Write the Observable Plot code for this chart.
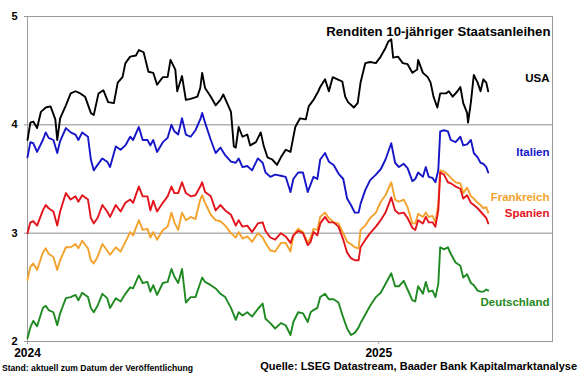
<!DOCTYPE html>
<html>
<head>
<meta charset="utf-8">
<script src="https://cdn.jsdelivr.net/npm/d3@7"></script>
<script src="https://cdn.jsdelivr.net/npm/@observablehq/plot@0.6"></script>
<style>
  body { margin: 0; background: #fff; font-family: "Liberation Sans", Arial, sans-serif; }
  #wrap { position: relative; width: 580px; height: 375px; }
  #footer { position: absolute; left: 0; top: 359px; width: 580px; height: 16px; font-weight: bold; color: #000; }
  #stand { position: absolute; left: 2px; top: 4px; font-size: 8.6px; white-space: nowrap; }
  #quelle { position: absolute; right: 3px; top: 1px; font-size: 11px; white-space: nowrap; }
</style>
</head>
<body>
<div id="wrap"><div id="chart"></div>
<div id="footer"><span id="stand">Stand: aktuell zum Datum der Veröffentlichung</span><span id="quelle">Quelle: LSEG Datastream, Baader Bank Kapitalmarktanalyse</span></div>
</div>
<script>
// Days since 2024-01-01 for the European series
const euDays = [0,3,6,10,16,19,22,27,31,34,40,45,50,53,57,63,66,69,73,78,83,86,92,97,102,107,110,116,120,125,128,131,135,141,146,150,153,
  157,161,165,170,175,180,182,185,191,196,201,206,212,217,220,224,229,234,240,245,248,253,258,264,269,274,277,282,287,292,295,298,302,
  305,310,314,319,324,329,333,337,341,345,347,352,357,363,368,373,379,383,387,392,396,401,404,407,412,415,418,422,425,428,430,434,438,441,446,451,454,458,462,465,469,472,475,478,480];

const italien = [3.70,3.84,3.83,3.75,3.86,3.93,3.88,3.86,3.74,3.85,3.97,3.93,3.91,3.86,3.93,3.89,3.68,3.58,3.63,3.69,3.66,3.61,3.80,3.77,3.81,3.89,3.86,3.98,3.86,3.86,3.81,3.86,3.75,3.84,3.88,4.00,3.94,
  3.91,4.06,3.91,3.89,3.95,4.05,4.11,4.02,3.86,3.74,3.79,3.72,3.66,3.65,3.69,3.61,3.62,3.58,3.69,3.65,3.56,3.52,3.54,3.53,3.52,3.38,3.50,3.56,3.56,3.38,3.45,3.52,3.50,
  3.68,3.74,3.66,3.63,3.55,3.50,3.32,3.26,3.19,3.19,3.27,3.40,3.49,3.54,3.59,3.68,3.83,3.65,3.61,3.64,3.60,3.48,3.50,3.56,3.52,3.61,3.52,3.51,3.47,3.58,3.94,3.95,3.94,3.86,3.84,3.89,3.81,3.82,3.86,3.74,3.70,3.65,3.64,3.61,3.56];

const spanien = [3.00,3.10,3.11,3.07,3.21,3.26,3.23,3.20,3.07,3.20,3.37,3.31,3.34,3.29,3.35,3.31,3.14,3.09,3.14,3.26,3.20,3.15,3.26,3.20,3.28,3.31,3.28,3.43,3.34,3.34,3.21,3.30,3.20,3.28,3.34,3.43,3.37,
  3.37,3.47,3.37,3.34,3.35,3.43,3.47,3.38,3.34,3.21,3.26,3.21,3.17,3.07,3.12,3.06,3.07,3.01,3.09,3.10,3.02,2.96,2.94,3.00,2.97,2.91,2.98,3.02,3.00,2.89,2.92,3.01,2.98,
  3.09,3.15,3.10,3.10,3.06,2.94,2.82,2.77,2.75,2.75,2.87,2.94,3.00,3.06,3.12,3.19,3.33,3.21,3.18,3.19,3.14,3.05,3.03,3.12,3.09,3.15,3.10,3.10,3.06,3.21,3.56,3.54,3.47,3.46,3.43,3.41,3.32,3.35,3.28,3.26,3.23,3.20,3.17,3.14,3.09];

const frankreich = [2.57,2.69,2.72,2.66,2.82,2.86,2.81,2.78,2.66,2.75,2.87,2.87,2.90,2.86,2.93,2.86,2.75,2.72,2.78,2.90,2.84,2.80,2.87,2.83,2.92,3.01,2.98,3.12,3.03,3.04,2.96,3.01,2.94,3.03,3.06,3.19,3.10,
  3.03,3.19,3.12,3.15,3.13,3.31,3.35,3.28,3.17,3.12,3.11,3.07,3.00,2.96,3.01,2.95,2.97,2.92,3.00,2.96,2.91,2.84,2.83,2.91,2.91,2.83,2.98,3.04,3.01,2.91,2.96,3.04,3.03,
  3.15,3.19,3.14,3.10,3.09,3.00,2.92,2.90,2.87,2.86,3.03,3.07,3.14,3.19,3.29,3.35,3.47,3.31,3.29,3.31,3.24,3.09,3.09,3.18,3.15,3.19,3.15,3.16,3.10,3.27,3.58,3.57,3.54,3.51,3.47,3.46,3.37,3.42,3.34,3.32,3.28,3.26,3.23,3.24,3.19];

const deutschland = [2.03,2.13,2.19,2.14,2.31,2.33,2.29,2.27,2.15,2.26,2.40,2.41,2.43,2.38,2.45,2.41,2.31,2.27,2.33,2.44,2.40,2.31,2.40,2.37,2.44,2.50,2.49,2.61,2.54,2.55,2.46,2.52,2.43,2.54,2.55,2.67,2.60,
  2.54,2.67,2.36,2.41,2.41,2.54,2.59,2.55,2.52,2.49,2.44,2.41,2.31,2.20,2.27,2.24,2.27,2.23,2.30,2.35,2.21,2.17,2.12,2.17,2.15,2.06,2.18,2.27,2.26,2.18,2.27,2.29,2.31,
  2.41,2.44,2.39,2.39,2.36,2.22,2.12,2.06,2.08,2.13,2.17,2.25,2.33,2.41,2.45,2.53,2.63,2.51,2.51,2.56,2.48,2.38,2.37,2.51,2.44,2.55,2.46,2.47,2.41,2.53,2.87,2.85,2.87,2.81,2.73,2.70,2.59,2.62,2.54,2.52,2.47,2.46,2.46,2.48,2.47];

// Days since 2024-01-01 for the US series
const usaDays = [0,3,6,10,14,19,24,29,31,34,40,45,50,55,60,66,69,74,79,84,90,94,99,102,107,113,116,121,126,131,135,141,146,149,154,156,161,165,170,177,180,182,185,191,196,201,204,208,212,215,217,220,224,229,232,238,243,246,250,255,260,264,269,274,279,284,290,293,298,303,
  305,310,314,318,323,328,331,334,340,344,347,352,357,363,368,373,376,379,381,386,391,396,401,406,407,412,417,420,423,427,430,436,439,443,448,451,454,458,459,462,465,469,472,475,478,480];
const usa = [3.86,4.02,4.03,3.97,4.12,4.16,4.17,4.05,3.86,4.06,4.18,4.29,4.31,4.29,4.26,4.11,4.09,4.29,4.32,4.21,4.20,4.39,4.44,4.57,4.63,4.64,4.69,4.67,4.49,4.48,4.37,4.44,4.44,4.60,4.51,4.31,4.45,4.23,4.24,4.26,4.34,4.48,4.34,4.26,4.18,4.23,4.28,4.20,4.12,3.80,3.79,3.98,3.89,3.91,3.81,3.84,3.93,3.81,3.70,3.68,3.63,3.70,3.77,3.75,3.98,4.06,4.05,4.17,4.23,4.31,
  4.35,4.42,4.31,4.44,4.42,4.40,4.26,4.21,4.16,4.20,4.39,4.57,4.58,4.57,4.63,4.71,4.77,4.79,4.62,4.63,4.57,4.56,4.48,4.51,4.60,4.48,4.44,4.39,4.26,4.16,4.29,4.29,4.31,4.26,4.31,4.35,4.20,4.11,4.02,4.21,4.46,4.39,4.31,4.42,4.39,4.31];

const seriesNames = ["USA", "Italien", "Frankreich", "Spanien", "Deutschland"];
const seriesColors = ["#000000", "#1616c8", "#f3a22e", "#e3141c", "#1f8a22"];
const labelValues = [4.43, 3.75, 3.33, 3.18, 2.36];
const yTicks = [2, 3, 4, 5];
const gridValues = [3, 4];
const xTickDates = ["2024-01-01", "2025-01-01"];
const xDomain = ["2024-01-01", "2025-07-01"];
const title = "Renditen 10-jähriger Staatsanleihen";

const base = Date.UTC(2024, 0, 1);
const toDate = d => new Date(base + d * 864e5);
const rows = [];
const add = (name, days, vals) => days.forEach((d, i) => rows.push({name, date: toDate(d), value: vals[i]}));
add("USA", usaDays, usa);
add("Italien", euDays, italien);
add("Frankreich", euDays, frankreich);
add("Spanien", euDays, spanien);
add("Deutschland", euDays, deutschland);

const labels = seriesNames.map((n, i) => ({name: n, value: labelValues[i], color: seriesColors[i]}));
const font = "'Liberation Sans', Arial, sans-serif";

const chart = Plot.plot({
  width: 580,
  height: 359,
  marginLeft: 27,
  marginRight: 28,
  marginTop: 16,
  marginBottom: 18,
  style: {fontFamily: font, background: "#fff", overflow: "visible"},
  x: {type: "utc", domain: xDomain.map(d => new Date(d)), ticks: xTickDates.map(d => new Date(d)), tickFormat: d3.utcFormat("%Y")},
  y: {domain: [2, 5], ticks: yTicks, tickFormat: d3.format("d")},
  color: {domain: seriesNames, range: seriesColors},
  marks: [
    Plot.ruleY(gridValues, {stroke: "#8c8c8c", strokeWidth: 1}),
    Plot.frame({stroke: "#9a9a9a", strokeWidth: 1}),
    Plot.axisX({ticks: xTickDates.map(d => new Date(d)), tickFormat: d3.utcFormat("%Y"), tickSize: 3, tickPadding: 4, stroke: "#9a9a9a", fontSize: 12, fontWeight: "bold", fill: "#000", label: null}),
    Plot.axisY({ticks: yTicks, tickFormat: d3.format("d"), tickSize: 3, tickPadding: 7, stroke: "#9a9a9a", fontSize: 11, fontWeight: "bold", fill: "#000", label: null}),
    Plot.line(rows, {x: "date", y: "value", z: "name", stroke: "name", strokeWidth: 1.9, curve: "linear"}),
    Plot.text([title], {frameAnchor: "top-right", dx: -2, dy: 10, text: d => d, textAnchor: "end", fontSize: 13.2, fontWeight: "bold", fill: "#000"}),
    Plot.text(labels, {frameAnchor: "right", y: "value", text: "name", fill: "color", textAnchor: "end", dx: -3, fontSize: 11.5, fontWeight: "bold"})
  ]
});
document.getElementById("chart").appendChild(chart);
</script>
</body>
</html>
